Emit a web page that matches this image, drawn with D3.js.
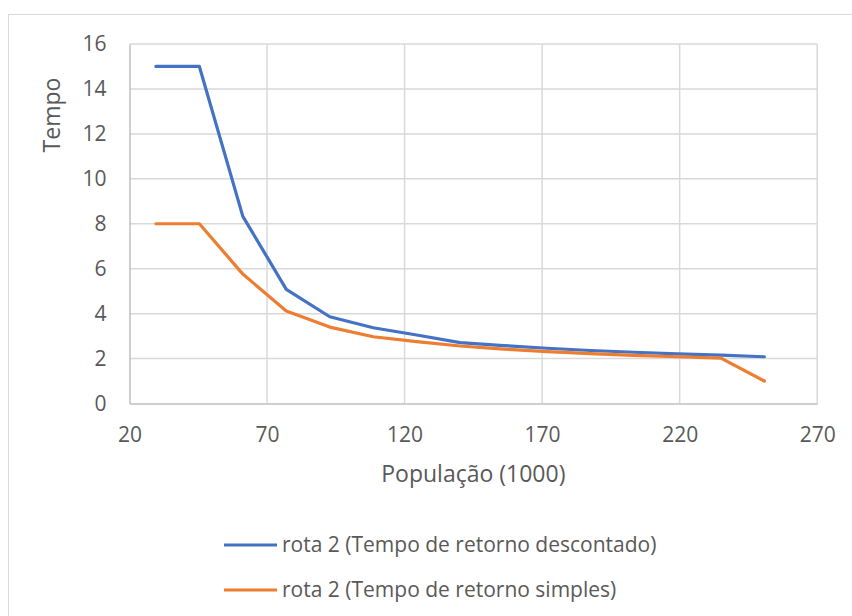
<!DOCTYPE html>
<html>
<head>
<meta charset="utf-8">
<script src="https://cdn.jsdelivr.net/npm/d3@7"></script>
<style>
  body { margin: 0; background: #fff; }
  text { font-family: "Open Sans", sans-serif; fill: #595959; }
</style>
</head>
<body>
<svg id="chart"></svg>
<script>
// population (thousands)
const populacao = [29.6, 45.4, 61.2, 77, 92.8, 108.6, 124.4, 140.2, 156, 171.8, 187.6, 203.4, 219.2, 235, 250.8];
const descontado = [15, 15, 8.33, 5.08, 3.86, 3.37, 3.05, 2.71, 2.58, 2.46, 2.36, 2.28, 2.21, 2.15, 2.08];
const simples = [8, 8, 5.76, 4.12, 3.40, 2.97, 2.75, 2.56, 2.42, 2.31, 2.22, 2.14, 2.08, 2.02, 1.0];
const seriesNames = ["rota 2 (Tempo de retorno descontado)", "rota 2 (Tempo de retorno simples)"];
const seriesColors = ["#4472C4", "#ED7D31"];
const xTicks = [20, 70, 120, 170, 220, 270];
const yTicks = [0, 2, 4, 6, 8, 10, 12, 14, 16];

const width = 852, height = 616;
const margin = {top: 44, right: 35, bottom: 212.5, left: 129.5};

const svg = d3.select("#chart")
    .attr("width", width)
    .attr("height", height)
    .attr("viewBox", [0, 0, width, height]);

// chart frame
svg.append("rect")
    .attr("x", 8.5).attr("y", 14.5)
    .attr("width", 860).attr("height", 620)
    .attr("fill", "none")
    .attr("stroke", "#d9d9d9");

let x = d3.scaleLinear()
    .domain([20, 270])
    .range([margin.left, width - margin.right + 0.2]);

let y = d3.scaleLinear()
    .domain([0, 16])
    .range([height - margin.bottom, margin.top]);

// grid
svg.append("g")
    .selectAll("line")
    .data(yTicks.slice(1))
    .join("line")
    .attr("x1", x(20)).attr("x2", x(270))
    .attr("y1", d => y(d)).attr("y2", d => y(d))
    .attr("stroke", "#d9d9d9")
    .attr("stroke-width", 1.5);

svg.append("g")
    .selectAll("line")
    .data(xTicks.slice(1))
    .join("line")
    .attr("x1", d => x(d)).attr("x2", d => x(d))
    .attr("y1", y(0)).attr("y2", y(16))
    .attr("stroke", "#d9d9d9")
    .attr("stroke-width", 1.5);

// axes, no ticks
let xAxis = g => g
    .attr("transform", `translate(0,${y(0)})`)
    .call(d3.axisBottom(x).tickValues(xTicks).tickSize(0).tickPadding(23.5))
    .call(g => g.select(".domain").attr("stroke", "#bfbfbf").attr("stroke-width", 1.5))
    .call(g => g.selectAll("text").style("font-size", "21px").attr("fill", "#595959"));

let yAxis = g => g
    .attr("transform", `translate(${x(20)},0)`)
    .call(d3.axisLeft(y).tickValues(yTicks).tickSize(0).tickPadding(23))
    .call(g => g.select(".domain").attr("stroke", "#bfbfbf").attr("stroke-width", 1.5))
    .call(g => g.selectAll("text").style("font-size", "21px").attr("fill", "#595959"));

svg.append("g").call(xAxis);
svg.append("g").call(yAxis);

// axis titles
svg.append("text")
    .attr("x", (x(20) + x(270)) / 2)
    .attr("y", 474)
    .attr("dy", "0.35em")
    .attr("text-anchor", "middle")
    .style("font-size", "23px")
    .text("População (1000)");

svg.append("text")
    .attr("transform", `translate(52,115) rotate(-90)`)
    .attr("dy", "0.35em")
    .attr("text-anchor", "middle")
    .style("font-size", "23px")
    .text("Tempo");

// lines
const data = [descontado, simples];
const line = d3.line()
    .x((d, i) => x(populacao[i]))
    .y(d => y(d));

svg.append("g")
    .selectAll("path")
    .data(data)
    .join("path")
    .attr("fill", "none")
    .attr("stroke", (d, i) => seriesColors[i])
    .attr("stroke-width", 3.2)
    .attr("stroke-linejoin", "round")
    .attr("stroke-linecap", "round")
    .attr("d", line);

// legend
const legend = svg.append("g")
    .selectAll("g")
    .data(seriesNames)
    .join("g")
    .attr("transform", (d, i) => `translate(224,${545 + i * 45})`);

legend.append("line")
    .attr("x1", 0).attr("x2", 53)
    .attr("stroke", (d, i) => seriesColors[i])
    .attr("stroke-width", 3.2);

legend.append("text")
    .attr("x", 58)
    .attr("dy", "0.35em")
    .style("font-size", "21px")
    .text(d => d);
</script>
</body>
</html>
